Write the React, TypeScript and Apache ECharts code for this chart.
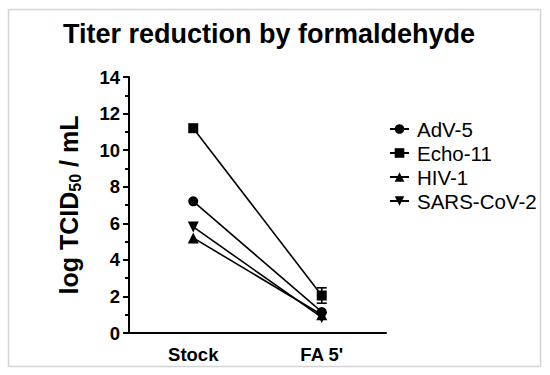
import React, { useEffect, useRef } from "react";
import * as echarts from "echarts";

const categories = ["Stock", "FA 5'"];
const seriesNames = ["AdV-5", "Echo-11", "HIV-1", "SARS-CoV-2"];
const adv5 = [7.2, 1.15];
const echo11 = [11.2, 2.05];
const hiv1 = [5.2, 1.0];
const sars2 = [5.8, 0.85];
const echo11Err = [0, 0.42];
const yTicks = { min: 0, max: 14, interval: 2 };

const FONT = "Liberation Sans, Arial, sans-serif";
const DOWN_TRI = "path://M0,0 L10,0 L5,9 Z";

export default function App() {
  const ref = useRef<HTMLDivElement>(null);
  useEffect(() => {
    if (!ref.current) return;
    const chart = echarts.init(ref.current, undefined, { renderer: "svg" });
    const lineSeries = (name: string, data: number[], symbol: string, size: number) => ({
      name,
      type: "line",
      data,
      symbol,
      symbolSize: size,
      lineStyle: { color: "#000", width: 1.6 },
      itemStyle: { color: "#000" },
      z: 3,
    });
    chart.setOption({
      animation: false,
      backgroundColor: "#fff",
      title: {
        text: "Titer reduction by formaldehyde",
        left: 264,
        textAlign: "center",
        top: 15,
        textStyle: { fontFamily: FONT, fontWeight: "bold", fontSize: 27, color: "#000" },
      },
      graphic: [
        {
          type: "rect",
          shape: { x: 8.5, y: 9.5, width: 532, height: 357 },
          style: { fill: "none", stroke: "#d4d4d4", lineWidth: 1.5 },
          silent: true,
        },
      ],
      legend: {
        orient: "vertical",
        left: 384,
        top: 113,
        itemWidth: 19,
        itemHeight: 12,
        itemGap: 2,
        data: seriesNames,
        textStyle: { fontFamily: FONT, fontSize: 20.5, color: "#000", lineHeight: 22, padding: [0, 0, 0, 3] },
      },
      grid: { left: 129, right: 164, top: 77, bottom: 42 },
      xAxis: {
        type: "category",
        data: categories,
        boundaryGap: true,
        axisLine: { lineStyle: { color: "#000", width: 2 } },
        axisTick: { alignWithLabel: true, length: 6, lineStyle: { color: "#000", width: 2 } },
        axisLabel: { fontFamily: FONT, fontWeight: "bold", fontSize: 18.5, color: "#000", margin: 12 },
      },
      yAxis: {
        type: "value",
        min: yTicks.min,
        max: yTicks.max,
        interval: yTicks.interval,
        name: "log TCID{sub|50} / mL",
        nameLocation: "middle",
        nameRotate: 90,
        nameGap: 46,
        nameTextStyle: {
          fontFamily: FONT,
          fontWeight: "bold",
          fontSize: 25,
          color: "#000",
          rich: {
            sub: { fontFamily: FONT, fontWeight: "bold", fontSize: 16, color: "#000", verticalAlign: "bottom", padding: [12, 0, 0, 0] },
          },
        },
        axisLine: { show: true, lineStyle: { color: "#000", width: 2 } },
        axisTick: { show: true, length: 6, lineStyle: { color: "#000", width: 2 } },
        minorTick: { show: true, splitNumber: 2, length: 4, lineStyle: { color: "#000", width: 2 } },
        splitLine: { show: false },
        axisLabel: { fontFamily: FONT, fontWeight: "bold", fontSize: 18.5, color: "#000", margin: 9 },
      },
      series: [
        {
          type: "custom",
          name: "err",
          data: echo11.map((v, i) => [i, v, echo11Err[i]]),
          renderItem: (params: any, api: any) => {
            const x = api.value(0);
            const v = api.value(1);
            const e = api.value(2);
            if (!e) return null;
            const top = api.coord([x, v + e]);
            const bot = api.coord([x, v - e]);
            const hw = 5;
            const st = { stroke: "#000", lineWidth: 1.6 };
            return {
              type: "group",
              children: [
                { type: "line", shape: { x1: top[0], y1: top[1], x2: bot[0], y2: bot[1] }, style: st },
                { type: "line", shape: { x1: top[0] - hw, y1: top[1], x2: top[0] + hw, y2: top[1] }, style: st },
                { type: "line", shape: { x1: bot[0] - hw, y1: bot[1], x2: bot[0] + hw, y2: bot[1] }, style: st },
              ],
            };
          },
          z: 2,
          silent: true,
        },
        lineSeries(seriesNames[0], adv5, "circle", 10),
        lineSeries(seriesNames[1], echo11, "rect", 10),
        lineSeries(seriesNames[2], hiv1, "triangle", 11),
        lineSeries(seriesNames[3], sars2, DOWN_TRI, 11),
      ],
    });
    return () => chart.dispose();
  }, []);
  return (
    <div
      ref={ref}
      style={{ position: "absolute", left: 0, top: 0, width: 550, height: 375 }}
    />
  );
}
